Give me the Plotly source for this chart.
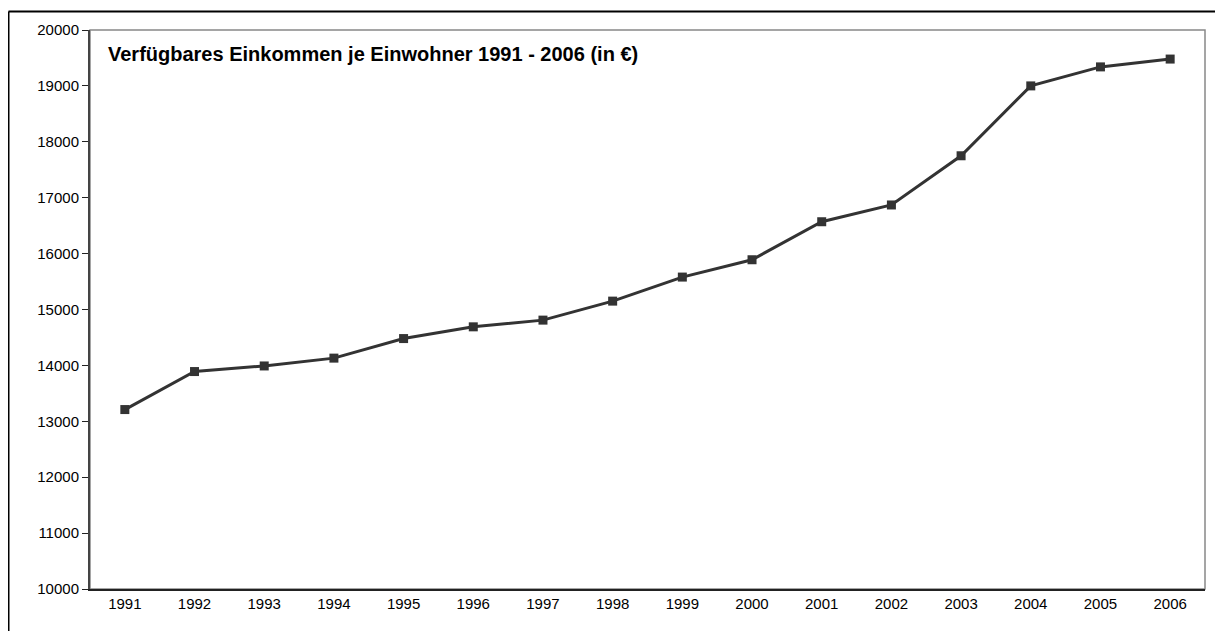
import plotly.graph_objects as go

years = [str(y) for y in range(1991, 2007)]
income = [13210, 13890, 13990, 14130, 14480, 14690, 14810, 15150, 15580,
          15890, 16570, 16870, 17750, 19000, 19340, 19480]
y_ticks = list(range(10000, 20001, 1000))
title_text = "Verfügbares Einkommen je Einwohner 1991 - 2006 (in €)"

# page body adds an 8px offset, so the figure is sized to fit the window
OFF = 8
W, H = 1223 - 2 * OFF, 639 - 2 * OFF
L, T = 90 - OFF, 30 - OFF
R = W - (1205 - OFF)
B = H - (589 - OFF)
pw, ph = W - L - R, H - T - B

def px(x):
    return (x - OFF - L) / pw

def py(y):
    return (H - B - (y - OFF)) / ph

fig = go.Figure()
fig.add_trace(go.Scatter(
    x=years, y=income, mode="lines+markers",
    line=dict(color="#333333", width=3),
    marker=dict(symbol="square", size=9, color="#333333"),
    showlegend=False,
))

fig.update_layout(
    width=W, height=H,
    margin=dict(l=L, r=R, t=T, b=B),
    paper_bgcolor="white", plot_bgcolor="white",
    font=dict(family="Liberation Sans, Arial, sans-serif", size=15, color="black"),
    xaxis=dict(type="category", range=[-0.5, len(years) - 0.5], showgrid=False,
               showline=True, linecolor="#222222",
               linewidth=2, ticks="", tickfont=dict(size=15), zeroline=False),
    yaxis=dict(range=[10000, 20000], tickvals=y_ticks, tickformat="d",
               showgrid=False, showline=True,
               linecolor="#444444", linewidth=2, ticks="outside", ticklen=6,
               tickcolor="#222222", tickfont=dict(size=15), zeroline=False),
    shapes=[
        dict(type="rect", xref="paper", yref="paper", x0=0, x1=1, y0=0, y1=1,
             line=dict(color="#888888", width=1.5), layer="below"),
        dict(type="line", xref="paper", yref="paper",
             x0=px(8.5), x1=px(8.5), y0=py(11.5), y1=py(660),
             line=dict(color="black", width=2), layer="below"),
        dict(type="line", xref="paper", yref="paper",
             x0=px(8.5), x1=px(1240), y0=py(11.5), y1=py(11.5),
             line=dict(color="black", width=2), layer="below"),
    ],
    annotations=[
        dict(text="<b>" + title_text + "</b>", xref="paper", yref="paper",
             x=px(106), y=py(54), xanchor="left", yanchor="middle",
             showarrow=False, font=dict(size=20, color="black")),
    ],
)

fig.write_html("out.html")
